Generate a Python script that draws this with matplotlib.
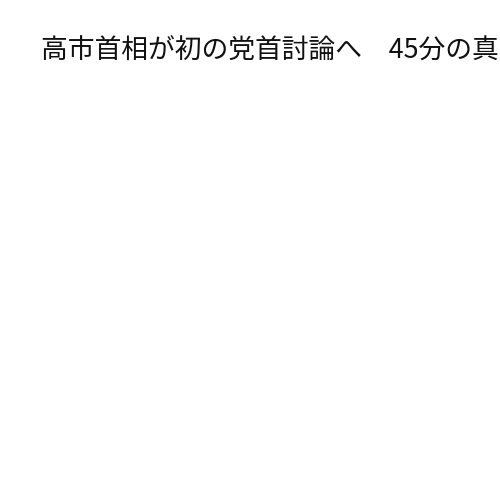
import matplotlib
matplotlib.use("Agg")
import matplotlib.pyplot as plt

plt.rcParams['font.family'] = ['Noto Sans CJK JP', 'DejaVu Sans']

title_text = "高市首相が初の党首討論へ\u300045分の真"

fig = plt.figure(figsize=(5, 5), dpi=100)
fig.patch.set_facecolor('white')
fig.text(41 / 500, 1 - 51 / 500, title_text, fontsize=19.3, color='#111111',
         ha='left', va='center', fontweight='normal')
fig.savefig("out.png", dpi=100, facecolor='white')
